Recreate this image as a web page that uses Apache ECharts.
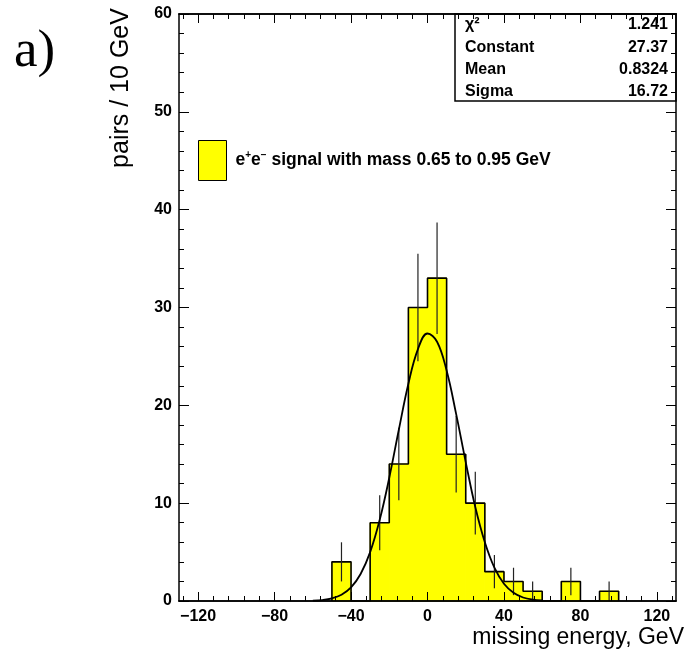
<!DOCTYPE html>
<html>
<head>
<meta charset="utf-8">
<script src="https://cdn.jsdelivr.net/npm/echarts@6.0.0/dist/echarts.min.js"></script>
<style>
  html, body { margin: 0; padding: 0; background: #fff; }
  #hist { width: 686px; height: 655px; }
</style>
</head>
<body>
<div id="hist"></div>
<script>
  // histogram bins, 10 GeV wide (low edges)
  const binLow = [-50, -40, -30, -20, -10, 0, 10, 20, 30, 40, 50, 60, 70, 80, 90]
  const binWidth = 10
  const counts = [4, 0, 8, 14, 30, 33, 15, 10, 3, 2, 1, 0, 2, 0, 1]
  const errors = [2.0, 0, 2.8, 3.7, 5.5, 5.7, 3.9, 3.2, 1.7, 1.4, 1.0, 0, 1.4, 0, 1.0]

  // gaussian fit curve
  const fitX = [-60, -55, -50, -45, -40, -35, -30, -25, -20, -15, -10, -5, 0, 5, 10, 15, 20, 25, 30, 35, 40, 45, 50, 55, 60]
  const fitY = [0.04, 0.10, 0.27, 0.64, 1.39, 2.76, 5.0, 8.3, 12.6, 17.5, 22.2, 25.75, 27.34, 26.5, 23.55, 19.1, 14.2, 9.6, 6.0, 3.4, 1.76, 0.84, 0.36, 0.14, 0.05]

  // ticks
  const xMajorTicks = [-120, -80, -40, 0, 40, 80, 120]
  const xMinorTicks = [-128, -120, -112, -104, -96, -88, -80, -72, -64, -56, -48, -40, -32, -24, -16, -8, 0,
    8, 16, 24, 32, 40, 48, 56, 64, 72, 80, 88, 96, 104, 112, 120, 128]

  // stats box
  const statNames = ['χ²', 'Constant', 'Mean', 'Sigma']
  const statValues = ['1.241', '27.37', '0.8324', '16.72']

  const FONT = 'Liberation Sans'
  const YELLOW = '#ffff00'

  const chart = echarts.init(document.getElementById('hist'))

  const fillData = binLow.map((x, i) => [x, x + binWidth, counts[i]])
  const outline = [[binLow[0], 0]]
  binLow.forEach((x, i) => {
    outline.push([x, counts[i]], [x + binWidth, counts[i]])
  })
  outline.push([binLow[binLow.length - 1] + binWidth, 0])
  const errData = binLow
    .map((x, i) => [x + binWidth / 2, counts[i] - errors[i], counts[i] + errors[i]])
    .filter((d, i) => counts[i] > 0)

  const axisLine = { show: true, onZero: false, lineStyle: { color: '#000', width: 1.5 } }

  function xAxisOf(pos, ticks, len, labels) {
    return {
      type: 'value', position: pos, min: -130, max: 130, z: 10,
      axisLine: axisLine,
      splitLine: { show: false },
      axisTick: { show: true, inside: true, length: len, customValues: ticks, lineStyle: { color: '#000', width: 1 } },
      axisLabel: labels ? {
        show: true, customValues: xMajorTicks, margin: 8, color: '#000',
        fontFamily: FONT, fontSize: 16, fontWeight: 'bold',
        formatter: v => String(v).replace('-', '\u2212')
      } : { show: false }
    }
  }

  function yAxisOf(pos, labels) {
    return {
      type: 'value', position: pos, min: 0, max: 60, interval: 10, z: 10,
      axisLine: axisLine,
      splitLine: { show: false },
      axisTick: { show: true, inside: true, length: 10, lineStyle: { color: '#000', width: 1 } },
      minorTick: { show: true, splitNumber: 5, length: 5, lineStyle: { color: '#000', width: 1 } },
      axisLabel: labels ? { show: true, margin: 7, color: '#000', fontFamily: FONT, fontSize: 16, fontWeight: 'bold' } : { show: false }
    }
  }

  const statTexts = []
  statNames.forEach((n, i) => {
    statTexts.push({
      type: 'text', x: 465, y: 25 + i * 22.3, z: 2,
      style: { text: n, fontFamily: FONT, fontSize: 16, fontWeight: 'bold', fill: '#000', verticalAlign: 'middle' }
    })
    statTexts.push({
      type: 'text', x: 668, y: 25 + i * 22.3, z: 2,
      style: { text: statValues[i], fontFamily: FONT, fontSize: 16, fontWeight: 'bold', fill: '#000', align: 'right', verticalAlign: 'middle' }
    })
  })

  chart.setOption({
    animation: false,
    backgroundColor: '#fff',
    grid: { left: 179, right: 10, top: 14, bottom: 54 },
    xAxis: [
      xAxisOf('bottom', xMajorTicks, 9, true),
      xAxisOf('bottom', xMinorTicks, 5, false),
      xAxisOf('top', xMajorTicks, 9, false),
      xAxisOf('top', xMinorTicks, 5, false)
    ],
    yAxis: [yAxisOf('left', true), yAxisOf('right', false)],
    legend: {
      left: 198, top: 140, orient: 'vertical', padding: 0,
      itemWidth: 28, itemHeight: 40,
      data: [{ name: 'signal', icon: 'rect', itemStyle: { color: YELLOW, borderColor: '#000', borderWidth: 1 } }],
      formatter: () => '{e|e}{s|+}{e|e}{s|\u2212}{t| signal with mass 0.65 to 0.95 GeV}',
      textStyle: {
        fontFamily: FONT, fontSize: 17.5, fontWeight: 'bold', color: '#000', padding: [0, 0, 0, 4],
        rich: {
          e: { fontFamily: FONT, fontSize: 17.5, fontWeight: 'bold', color: '#000' },
          s: { fontFamily: FONT, fontSize: 10, fontWeight: 'bold', color: '#000', padding: [0, 0, 10, 0] },
          t: { fontFamily: FONT, fontSize: 17.5, fontWeight: 'bold', color: '#000' }
        }
      }
    },
    series: [
      {
        name: 'signal', type: 'custom', data: fillData, z: 2,
        itemStyle: { color: YELLOW },
        encode: { x: [0, 1], y: 2 },
        renderItem: (params, api) => {
          const p0 = api.coord([api.value(0), 0])
          const p1 = api.coord([api.value(1), api.value(2)])
          return {
            type: 'rect',
            shape: { x: p0[0], y: p1[1], width: p1[0] - p0[0], height: p0[1] - p1[1] },
            style: { fill: YELLOW, stroke: YELLOW, lineWidth: 1 }
          }
        }
      },
      {
        type: 'line', data: outline, z: 3, symbol: 'none',
        lineStyle: { color: '#000', width: 1.6 }
      },
      {
        type: 'custom', data: errData, z: 4,
        encode: { x: 0, y: [1, 2] },
        renderItem: (params, api) => {
          const a = api.coord([api.value(0), Math.max(api.value(1), 0)])
          const b = api.coord([api.value(0), api.value(2)])
          return {
            type: 'line',
            shape: { x1: a[0], y1: a[1], x2: b[0], y2: b[1] },
            style: { stroke: '#222', lineWidth: 1.2 }
          }
        }
      },
      {
        type: 'line', data: fitX.map((x, i) => [x, fitY[i]]), z: 5,
        symbol: 'none', smooth: 0.4,
        lineStyle: { color: '#000', width: 1.8 }
      }
    ],
    graphic: [
      {
        type: 'text', left: 14, top: 26,
        style: { text: 'a)', fontFamily: 'Liberation Serif', fontSize: 53, fill: '#000' }
      },
      {
        type: 'text', x: 121, y: 88, rotation: Math.PI / 2,
        style: { text: 'pairs / 10 GeV', fontFamily: FONT, fontSize: 25, fill: '#000', align: 'center', verticalAlign: 'middle' }
      },
      {
        type: 'text', x: 684, y: 638,
        style: { text: 'missing energy, GeV', fontFamily: FONT, fontSize: 23, fill: '#000', align: 'right', verticalAlign: 'middle' }
      },
      {
        type: 'rect', z: 1,
        shape: { x: 455, y: 14, width: 221, height: 87 },
        style: { fill: '#fff', stroke: '#000', lineWidth: 1.5 }
      }
    ].concat(statTexts)
  })
</script>
</body>
</html>
